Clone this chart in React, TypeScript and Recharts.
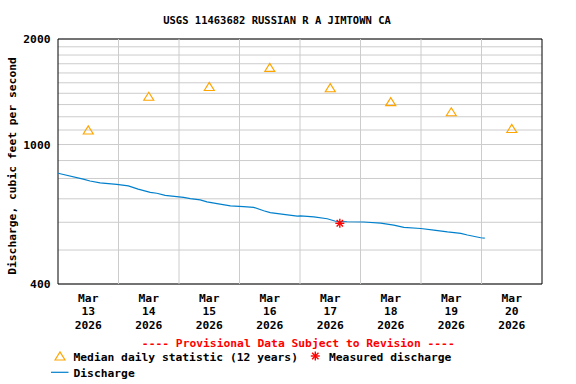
import React from "react";
import {
  ComposedChart,
  Line,
  Scatter,
  XAxis,
  YAxis,
  CartesianGrid,
  ReferenceArea,
  ReferenceLine,
} from "recharts";

// Hours since Mar 13 2026 00:00 and discharge (cfs)
const dischargeHours = [
  0, 10, 12.7, 16.7, 23.3, 27.9, 31.8, 36.6, 39.2, 42.5, 49.8, 52.5, 56.4, 59.1,
  63.1, 68.4, 73.6, 77.6, 81.6, 84.2, 89.5, 94.9, 96.2, 101.5, 106.8, 110.1,
  114.7, 121.3, 128, 133.2, 137.2, 143.9, 149.1, 154.5, 159.8, 162.4, 167.7, 169.3,
];
const dischargeValues = [
  828, 797, 787, 777, 770, 762, 746, 730, 726, 716, 707, 701, 695, 686, 678, 668,
  665, 662, 647, 639, 632, 625, 626, 622, 614, 604, 602, 601, 597, 589, 580, 576,
  570, 563, 558, 552, 542, 541,
];

const medianDays = [13, 14, 15, 16, 17, 18, 19, 20];
const medianValues = [1100, 1373, 1464, 1659, 1452, 1325, 1240, 1111];

const measuredHours = [111.8];
const measuredValues = [596];

const dayTicks = [0, 24, 48, 72, 96, 120, 144, 168, 192];
const innerDayTicks = [24, 48, 72, 96, 120, 144, 168];
const labelTicks = [12, 36, 60, 84, 108, 132, 156, 180];
const yGridTicks = [
  400, 500, 600, 700, 800, 900, 1000, 1100, 1200, 1300, 1400, 1500, 1600, 1700,
  1800, 1900, 2000,
];
const yLabelValues = [400, 1000, 2000];
const monthLabel = "Mar";
const yearLabel = "2026";

const dischargeData = dischargeHours.map((t, i) => ({ t, v: dischargeValues[i] }));
const medianData = medianDays.map((d, i) => ({ t: (d - 13) * 24 + 12, v: medianValues[i] }));
const measuredData = measuredHours.map((t, i) => ({ t, v: measuredValues[i] }));

const FONT = "'DejaVu Sans Mono', monospace";

const Triangle = (props: any) => {
  const { cx, cy } = props;
  if (cx == null || cy == null) return null;
  return (
    <path
      d={`M${cx - 5},${cy + 4} L${cx},${cy - 4} L${cx + 5},${cy + 4} Z`}
      fill="none"
      stroke="#FFA500"
      strokeWidth={1.2}
    />
  );
};

const Star = (props: any) => {
  const { cx, cy } = props;
  if (cx == null || cy == null) return null;
  const r = 4.5;
  const d = 3.2;
  return (
    <g stroke="#FF0000" strokeWidth={1.4}>
      <line x1={cx - r} y1={cy} x2={cx + r} y2={cy} />
      <line x1={cx} y1={cy - r} x2={cx} y2={cy + r} />
      <line x1={cx - d} y1={cy - d} x2={cx + d} y2={cy + d} />
      <line x1={cx - d} y1={cy + d} x2={cx + d} y2={cy - d} />
    </g>
  );
};

const XLabelTick = (props: any) => {
  const { x, y, payload } = props;
  const day = 13 + Math.floor(payload.value / 24);
  return (
    <g>
      <text x={x} y={y + 17.5} textAnchor="middle" fontFamily={FONT} fontWeight="bold" fontSize={11.3} fill="#000">
        {monthLabel}
      </text>
      <text x={x} y={y + 31} textAnchor="middle" fontFamily={FONT} fontWeight="bold" fontSize={11.3} fill="#000">
        {String(day)}
      </text>
      <text x={x} y={y + 44.5} textAnchor="middle" fontFamily={FONT} fontWeight="bold" fontSize={11.3} fill="#000">
        {yearLabel}
      </text>
    </g>
  );
};

const YLabelTick = (props: any) => {
  const { x, y, payload } = props;
  if (!yLabelValues.includes(payload.value)) return null;
  return (
    <text x={x - 7.5} y={y + 4} textAnchor="end" fontFamily={FONT} fontWeight="bold" fontSize={11.3} fill="#000">
      {String(payload.value)}
    </text>
  );
};

export default function App() {
  return (
    <div style={{ position: "absolute", left: 0, top: 0, width: 576, height: 384, background: "#fff" }}>
      <ComposedChart
        width={576}
        height={384}
        margin={{ top: 39, right: 34, bottom: 0, left: 0 }}
      >
        <CartesianGrid xAxisId="t" yAxisId="y" stroke="#cccccc" strokeWidth={1} vertical={false} />
        <XAxis
          xAxisId="t"
          type="number"
          dataKey="t"
          domain={[0, 192]}
          ticks={labelTicks}
          tick={<XLabelTick />}
          tickLine={false}
          tickSize={0}
          tickMargin={0}
          axisLine={false}
          height={100}
          interval={0}
          allowDataOverflow
        />
        <YAxis
          yAxisId="y"
          type="number"
          scale="log"
          domain={[400, 2000]}
          ticks={yGridTicks}
          tick={<YLabelTick />}
          tickLine={false}
          tickSize={0}
          tickMargin={0}
          axisLine={false}
          width={58}
          interval={0}
          allowDataOverflow
        />
        {innerDayTicks.map((t) => (
          <ReferenceLine key={t} xAxisId="t" yAxisId="y" x={t} stroke="#cccccc" strokeWidth={1} />
        ))}
        <ReferenceArea
          xAxisId="t"
          yAxisId="y"
          x1={dayTicks[0]}
          x2={dayTicks[dayTicks.length - 1]}
          y1={400}
          y2={2000}
          fill="none"
          stroke="#000"
          strokeWidth={1}
          ifOverflow="visible"
        />
        <Line
          xAxisId="t"
          yAxisId="y"
          data={dischargeData}
          dataKey="v"
          type="linear"
          stroke="#0080CC"
          strokeWidth={1.2}
          dot={false}
          isAnimationActive={false}
        />
        <Scatter
          xAxisId="t"
          yAxisId="y"
          data={medianData}
          dataKey="v"
          shape={<Triangle />}
          isAnimationActive={false}
        />
        <Scatter
          xAxisId="t"
          yAxisId="y"
          data={measuredData}
          dataKey="v"
          shape={<Star />}
          isAnimationActive={false}
        />
      </ComposedChart>
      <svg
        width={576}
        height={384}
        style={{ position: "absolute", left: 0, top: 0, pointerEvents: "none" }}
      >
        <text x={277} y={24} textAnchor="middle" fontFamily={FONT} fontWeight="bold" fontSize={10.5} fill="#000">
          USGS 11463682 RUSSIAN R A JIMTOWN CA
        </text>
        <text
          x={15.5}
          y={166}
          transform="rotate(-90 15.5 166)"
          textAnchor="middle"
          fontFamily={FONT}
          fontWeight="bold"
          fontSize={11.3}
          fill="#000"
        >
          Discharge, cubic feet per second
        </text>
        <text x={298.3} y={347} textAnchor="middle" fontFamily={FONT} fontWeight="bold" fontSize={11.3} fill="#FF0000">
          ---- Provisional Data Subject to Revision ----
        </text>
        <Triangle cx={60} cy={356} />
        <text x={73.5} y={360.5} fontFamily={FONT} fontWeight="bold" fontSize={11.3} fill="#000">
          Median daily statistic (12 years)
        </text>
        <Star cx={315.3} cy={356} />
        <text x={329} y={360.5} fontFamily={FONT} fontWeight="bold" fontSize={11.3} fill="#000">
          Measured discharge
        </text>
        <line x1={51} y1={372.3} x2={68.5} y2={372.3} stroke="#0080CC" strokeWidth={1.2} />
        <text x={73.5} y={376.5} fontFamily={FONT} fontWeight="bold" fontSize={11.3} fill="#000">
          Discharge
        </text>
      </svg>
    </div>
  );
}
